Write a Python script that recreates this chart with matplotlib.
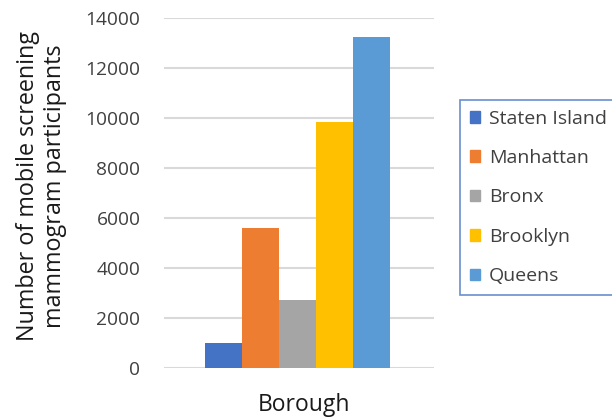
import matplotlib.pyplot as plt
import matplotlib.patches as mpatches

boroughs = ["Staten Island", "Manhattan", "Bronx", "Brooklyn", "Queens"]
participants = [990, 5590, 2730, 9830, 13230]
colors = ["#4472C4", "#ED7D31", "#A5A5A5", "#FFC000", "#5B9BD5"]

plt.rcParams["font.family"] = "Open Sans"

fig = plt.figure(figsize=(6.12, 4.19), dpi=100)
ax = fig.add_axes([164 / 612, 1 - 368 / 419, 270 / 612, 350 / 419])

w = 37 / 270
for i, (name, val) in enumerate(zip(boroughs, participants)):
    ax.bar((i - 2) * w - 1.5 / 270, val, width=w, color=colors[i], label=name, zorder=3)

ax.set_xlim(-0.5, 0.5)
ax.set_ylim(0, 14000)
ax.set_yticks(range(0, 14001, 2000))
ax.set_xticks([])
ax.grid(axis="y", color="#d9d9d9", linewidth=1.5, zorder=0)
for s in ax.spines.values():
    s.set_visible(False)
ax.tick_params(axis="y", length=0, labelsize=13.8, labelcolor="#404040", pad=17)

ax.set_ylabel("Number of mobile screening\nmammogram participants", fontsize=16.8,
              color="#1a1a1a", linespacing=1.15)
ax.yaxis.set_label_coords(-(164 - 67) / 270, 0.52)
ax.set_xlabel("Borough", fontsize=16.5, color="#1a1a1a")
ax.xaxis.set_label_coords(0.52, -(393 - 368) / 350)

handles = [mpatches.Patch(color=c, label=b) for b, c in zip(boroughs, colors)]
leg = fig.legend(handles=handles, loc="upper left", bbox_to_anchor=(460 / 612, 1 - 100 / 419),
                 frameon=True, fancybox=False, fontsize=14, labelspacing=1.1,
                 handlelength=0.55, handleheight=0.55, handletextpad=0.45,
                 borderpad=0.5, borderaxespad=0)
leg.get_frame().set_edgecolor("#4472C4")
leg.get_frame().set_linewidth(1.2)
for t in leg.get_texts():
    t.set_color("#404040")

fig.savefig("out.png", dpi=100)
